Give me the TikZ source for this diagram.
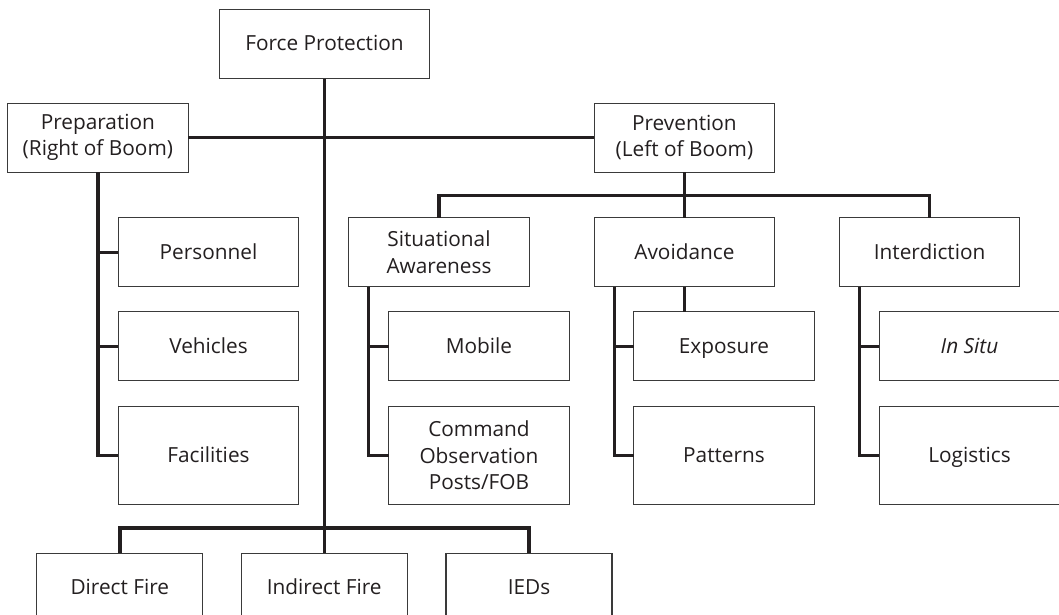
\documentclass[tikz,border=0pt]{standalone}
\usepackage{fontspec}
\setmainfont{Open Sans}
\definecolor{ink}{HTML}{231F20}
\definecolor{edge}{HTML}{3A3A3A}
\begin{document}
\begin{tikzpicture}[x=1pt,y=-1pt,
  box/.style={draw=edge, line width=1.1pt, fill=white, text=ink,
    minimum width=180.5pt, minimum height=69pt, inner sep=0pt, outer sep=0pt,
    align=center, font=\fontsize{20.8}{26.5}\selectfont},
  single/.style={box, text height=15.6pt, text depth=2pt},
  tallbox/.style={single, minimum height=98pt},
  lowbox/.style={single, minimum width=166pt},
  link/.style={draw=ink, line width=3.4pt, line join=miter}]
\useasboundingbox (0,0) rectangle (1059,614);
\clip (0,0) rectangle (1059,614);

% top levels
\node[single, minimum width=210.3pt] (fp) at (324.5,44) {Force Protection};
\node[box] (prep) at (97.9,137.6) {Preparation\\(Right of Boom)};
\node[box] (prev) at (684.4,137.6) {Prevention\\(Left of Boom)};

% preparation branch
\node[single] (pers) at (208.5,252.4) {Personnel};
\node[single] (veh) at (208.5,346.2) {Vehicles};
\node[tallbox] (fac) at (208.5,455.2) {Facilities};

% prevention branch
\node[box] (sa) at (439,252.4) {Situational\\Awareness};
\node[single] (avoid) at (684.4,252.4) {Avoidance};
\node[single] (interd) at (929.6,252.4) {Interdiction};
\node[single] (mob) at (479,346.2) {Mobile};
\node[box, minimum height=98pt] (cmd) at (479,455.2) {Command\\Observation\\Posts/FOB};
\node[single] (expo) at (724,346.2) {Exposure};
\node[tallbox] (pat) at (724,455.2) {Patterns};
\node[single] (insitu) at (969.5,346.2) {\itshape In Situ};
\node[tallbox] (logi) at (969.5,455.2) {Logistics};

% threats
\node[lowbox] (direct) at (119.8,587.8) {Direct Fire};
\node[lowbox] (indirect) at (324.2,587.8) {Indirect Fire};
\node[lowbox] (ieds) at (529,587.8) {IEDs};

% trunk and first split
\draw[link] (fp.south) -- (fp.south |- indirect.north);
\draw[link] (prep.east) -- (prev.west);
\draw[link] (direct.north) -- ++(0,-25.4) -| (ieds.north);

% preparation rake
\draw[link] (prep.south) |- (fac.west);
\draw[link] (prep.south |- pers.west) -- (pers.west);
\draw[link] (prep.south |- veh.west) -- (veh.west);

% prevention bar
\draw[link] (prev.south) -- (avoid.north);
\draw[link] (sa.north) -- ++(0,-22.2) -| (interd.north);

% situational awareness rake
\coordinate (saV) at ([xshift=19.6pt]sa.south west);
\draw[link] (saV) |- (cmd.west);
\draw[link] (saV |- mob.west) -- (mob.west);

% avoidance rake
\coordinate (avV) at ([xshift=20.2pt]avoid.south west);
\draw[link] (avV) |- (pat.west);
\draw[link] (avV |- expo.west) -- (expo.west);
\draw[link] (avoid.south) -- (avoid.south |- expo.north);

% interdiction rake
\coordinate (inV) at ([xshift=20.2pt]interd.south west);
\draw[link] (inV) |- (logi.west);
\draw[link] (inV |- insitu.west) -- (insitu.west);
\end{tikzpicture}
\end{document}
